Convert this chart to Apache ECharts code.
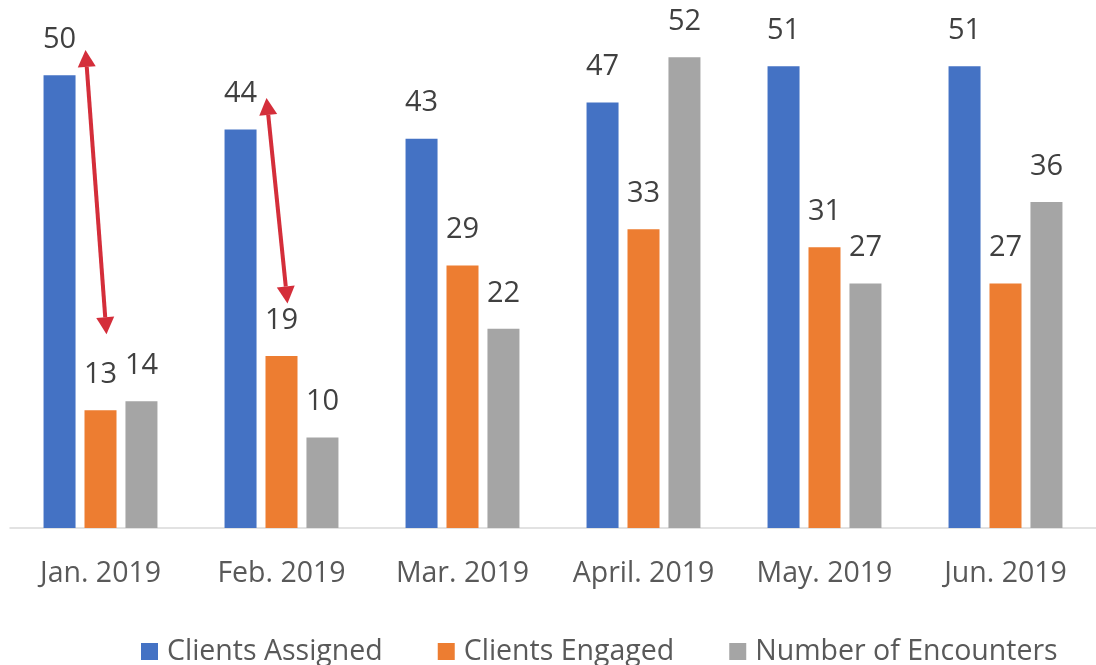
<!DOCTYPE html>
<html>
<head>
<meta charset="utf-8">
<script src="https://cdn.jsdelivr.net/npm/echarts@6/dist/echarts.min.js"></script>
<style>
  html, body { margin: 0; padding: 0; background: #fff; }
  #main { width: 1096px; height: 665px; }
</style>
</head>
<body>
<div id="main"></div>
<script>
// months on the x axis
var months = ['Jan. 2019', 'Feb. 2019', 'Mar. 2019', 'April. 2019', 'May. 2019', 'Jun. 2019'];

// series values
var clientsAssigned = [50, 44, 43, 47, 51, 51];
var clientsEngaged = [13, 19, 29, 33, 31, 27];
var encounters = [14, 10, 22, 52, 27, 36];

// red double arrows: [month index, top value, bottom value]
var arrows = [
    [0, 52.8, 21.4],
    [1, 47.5, 24.8]
];

var fontFam = '"Open Sans", "Noto Sans", sans-serif';

var chart = echarts.init(document.getElementById('main'));

function barSeries(name, data, color) {
    return {
        name: name,
        type: 'bar',
        data: data,
        barWidth: 32,
        barGap: '28%',
        itemStyle: { color: color },
        label: {
            show: true,
            position: 'top',
            distance: 21,
            color: '#404040',
            fontSize: 29,
            fontFamily: fontFam
        }
    };
}

var option = {
    animation: false,
    grid: { left: 10, right: -8, top: 30, bottom: 137 },
    legend: {
        top: 632,
        left: 136,
        itemWidth: 17,
        itemHeight: 17,
        itemGap: 55,
        icon: 'rect',
        textStyle: { color: '#595959', fontSize: 28.5, fontFamily: fontFam, padding: [0, 0, 0, 4] }
    },
    xAxis: {
        type: 'category',
        data: months,
        axisLine: { lineStyle: { color: '#d9d9d9', width: 1.5 } },
        axisTick: { show: false },
        axisLabel: { color: '#595959', fontSize: 28.5, fontFamily: fontFam, margin: 31, interval: 0 }
    },
    yAxis: {
        type: 'value',
        min: 0,
        max: 55,
        show: false,
        splitLine: { show: false }
    },
    series: [
        barSeries('Clients Assigned', clientsAssigned, '#4472c4'),
        barSeries('Clients Engaged', clientsEngaged, '#ed7d31'),
        barSeries('Number of Encounters', encounters, '#a5a5a5')
    ]
};

chart.setOption(option);

// draw the arrows after the axes exist
function arrowHead(tip, from, len, half) {
    var dx = tip[0] - from[0], dy = tip[1] - from[1];
    var d = Math.sqrt(dx * dx + dy * dy);
    var ux = dx / d, uy = dy / d;
    var bx = tip[0] - ux * len, by = tip[1] - uy * len;
    return [tip, [bx - uy * half, by + ux * half], [bx + uy * half, by - ux * half]];
}

var graphics = [];
arrows.forEach(function (a) {
    var top = chart.convertToPixel({ seriesIndex: 0 }, [a[0], a[1]]);
    var bot = chart.convertToPixel({ seriesIndex: 0 }, [a[0], a[2]]);
    var p1 = [top[0] - 15, top[1]];
    var p2 = [bot[0] + 6, bot[1]];
    var h1 = arrowHead(p1, p2, 17, 9);
    var h2 = arrowHead(p2, p1, 17, 9);
    var s1 = [(h1[1][0] + h1[2][0]) / 2, (h1[1][1] + h1[2][1]) / 2];
    var s2 = [(h2[1][0] + h2[2][0]) / 2, (h2[1][1] + h2[2][1]) / 2];
    graphics.push({
        type: 'line',
        shape: { x1: s1[0], y1: s1[1], x2: s2[0], y2: s2[1] },
        style: { stroke: '#d42e3a', lineWidth: 4 }
    });
    graphics.push({ type: 'polygon', shape: { points: h1 }, style: { fill: '#d42e3a' } });
    graphics.push({ type: 'polygon', shape: { points: h2 }, style: { fill: '#d42e3a' } });
});
chart.setOption({ graphic: graphics });
</script>
</body>
</html>
